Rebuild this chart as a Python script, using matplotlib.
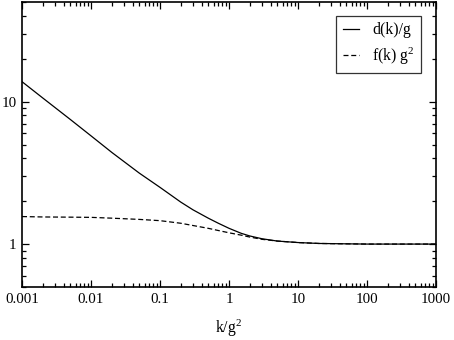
import numpy as np
import matplotlib
matplotlib.use("Agg")
import matplotlib.pyplot as plt
from matplotlib.ticker import LogLocator, FixedLocator, NullFormatter

plt.rcParams['font.family'] = ['Liberation Serif', 'DejaVu Serif']
plt.rcParams['mathtext.fontset'] = 'custom'
plt.rcParams['mathtext.rm'] = 'Liberation Serif'
plt.rcParams['mathtext.it'] = 'Liberation Serif'

# values
k = [0.001, 0.002, 0.005, 0.01, 0.02, 0.05, 0.1, 0.2, 0.3, 0.5, 0.7, 1, 1.5, 2, 3, 5, 10, 20, 50, 100, 1000]
d_over_g = [13.8, 10.6, 7.5, 5.75, 4.4, 3.15, 2.5, 1.97, 1.74, 1.52, 1.40, 1.29, 1.19, 1.14, 1.09,
            1.05, 1.025, 1.01, 1.004, 1.0, 1.0]
f_g2 = [1.56, 1.55, 1.545, 1.54, 1.52, 1.49, 1.46, 1.40, 1.35, 1.29, 1.245, 1.20, 1.155, 1.12, 1.08,
        1.05, 1.025, 1.01, 1.004, 1.0, 1.0]

xticks = [0.001, 0.01, 0.1, 1, 10, 100, 1000]
xticklabels = ["0.001", "0.01", "0.1", "1", "10", "100", "1000"]
yticks = [1, 10]
yticklabels = ["1", "10"]

fig = plt.figure(figsize=(4.54, 3.40), dpi=100)
ax = fig.add_axes([0.0485, 0.156, 0.912, 0.838])

ax.plot(k, d_over_g, color='black', lw=0.9, ls='-', label='d(k)/g')
ax.plot(k, f_g2, color='black', lw=0.9, ls=(0, (4, 2.2)), label=r'f(k) g$^{2}$')

ax.set_xscale('log')
ax.set_yscale('log')
ax.set_xlim(0.001, 1000)
ax.set_ylim(0.5, 50)

ax.xaxis.set_major_locator(FixedLocator(xticks))
ax.set_xticklabels(xticklabels)
ax.xaxis.set_minor_locator(LogLocator(base=10, subs=np.arange(2, 10), numticks=20))
ax.xaxis.set_minor_formatter(NullFormatter())
ax.yaxis.set_major_locator(FixedLocator(yticks))
ax.set_yticklabels(yticklabels)
ax.yaxis.set_minor_locator(LogLocator(base=10, subs=np.arange(2, 10), numticks=20))
ax.yaxis.set_minor_formatter(NullFormatter())

ax.tick_params(which='both', direction='in', top=True, right=True, labelsize=10.8, width=0.9, pad=4)
ax.tick_params(which='major', length=5)
ax.tick_params(which='minor', length=3)
for s in ax.spines.values():
    s.set_linewidth(1.2)

ax.set_xlabel(r'k/g$^{2}$', fontsize=11.3, labelpad=9)

leg = ax.legend(loc='upper right', bbox_to_anchor=(0.964, 0.951), fontsize=11.3,
                frameon=True, fancybox=False, handlelength=1.05, handletextpad=0.85,
                borderpad=0.4, labelspacing=0.45, borderaxespad=0)
leg.get_frame().set_edgecolor('black')
leg.get_frame().set_linewidth(0.9)

fig.savefig('out.png', dpi=100)
